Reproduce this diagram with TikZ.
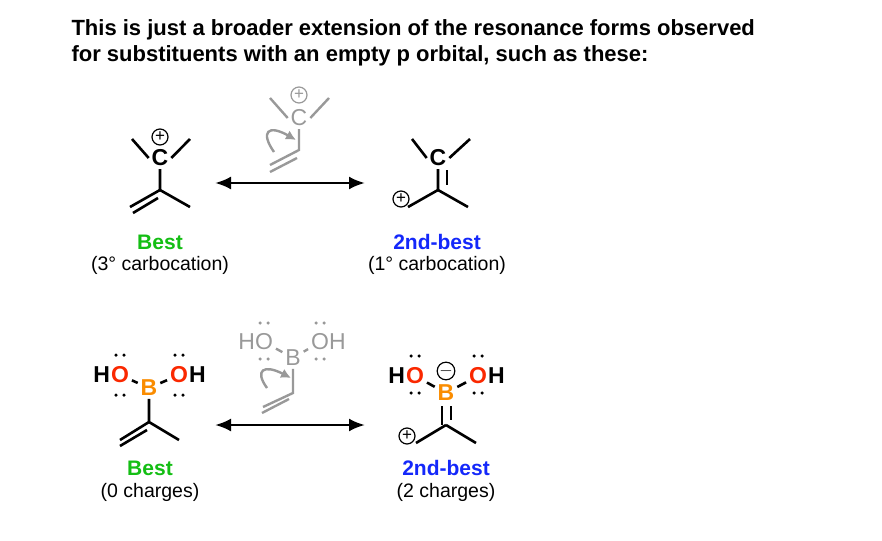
\documentclass[tikz,border=0pt]{standalone}
\usepackage{fontspec}
\setmainfont{Liberation Sans}
\usetikzlibrary{arrows.meta}
\begin{document}
\begin{tikzpicture}[x=1pt,y=-1pt,
 bd/.style={line width=2.6pt,black},
 gb/.style={line width=2.4pt,gray!80},
 atm/.style={font=\fontsize{23}{23}\selectfont\bfseries,inner sep=0pt,outer sep=3pt},
 gat/.style={font=\fontsize{23}{23}\selectfont,inner sep=0pt,outer sep=3pt,text=gray!80},
 lab/.style={font=\fontsize{21}{21}\selectfont\bfseries,inner sep=0pt},
 sub/.style={font=\fontsize{19.5}{19.5}\selectfont,inner sep=0pt},
 chg/.style={circle,draw,line width=1.2pt,inner sep=0pt,minimum size=16pt,font=\fontsize{17}{17}\selectfont},
 rarr/.style={line width=2.6pt,{Latex[length=16pt,width=13pt]}-{Latex[length=16pt,width=13pt]}},
 dot/.style={circle,fill,inner sep=0pt,minimum size=3.5pt}]
\useasboundingbox (0,0) rectangle (882,540);
\definecolor{bgreen}{RGB}{20,190,20}
\definecolor{bblue}{RGB}{20,40,250}
\definecolor{borange}{RGB}{250,140,0}
\definecolor{ored}{RGB}{250,40,0}
\node[anchor=west,font=\fontsize{22}{26}\selectfont\bfseries,align=left] (title) at (68,43) {This is just a broader extension of the resonance forms observed\\for substituents with an empty p orbital, such as these:};
% molecule 1
\node[atm] (c1) at (160,158) {C};
\node[chg] (p1) at (160,137) {+};
\coordinate (m1a) at (132,139); \coordinate (m1b) at (190,139);
\coordinate (j1) at (160,190); \coordinate (e1) at (190,207); \coordinate (d1) at (130,207);
\draw[bd] (m1a) -- (c1.west); \draw[bd] (c1.east) -- (m1b);
\draw[bd] (c1.south) -- (j1) -- (e1); \draw[bd] (j1) -- (d1);
\draw[bd] (158,198) -- (133,213);
\coordinate (a1l) at (215,183); \coordinate (a1r) at (365,183);
\draw[rarr] (a1l) -- (a1r);
% gray 1
\node[gat] (gc1) at (299,118) {C};
\node[chg,draw=gray!80,text=gray!80] (gp1) at (299,95) {+};
\coordinate (g1a) at (270,98); \coordinate (g1b) at (329,98);
\coordinate (gj1) at (299,150); \coordinate (gd1) at (270,165);
\draw[gb] (g1a) -- (gc1.west); \draw[gb] (gc1.east) -- (g1b);
\draw[gb] (gc1.south) -- (gj1) -- (gd1);
\draw[gb] (297,158) -- (270,172);
\coordinate (ga1s) at (274,152); \coordinate (ga1e) at (296,140);
\draw[gb,-{Latex[length=10pt,width=10pt]}] (ga1s) .. controls (260,132) and (268,124) .. (ga1e);
% right 1
\node[atm] (c2) at (438,158) {C};
\coordinate (m2a) at (412,139); \coordinate (m2b) at (470,139);
\coordinate (j2) at (438,190); \coordinate (e2) at (468,207); \coordinate (d2) at (408,207);
\draw[bd] (m2a) -- (c2.west); \draw[bd] (c2.east) -- (m2b);
\draw[bd] (c2.south) -- (j2) -- (e2); \draw[bd] (j2) -- (d2);
\draw[bd] (447,170) -- (447,185);
\node[chg] (p2) at (401,199) {+};
\node[lab,text=bgreen] (best1) at (160,242) {Best};
\node[sub] (s1) at (160,265) {(3° carbocation)};
\node[lab,text=bblue] (nd1) at (437,242) {2nd-best};
\node[sub] (s2) at (437,265) {(1° carbocation)};
% molecule 3
\node[atm,text=borange] (b1) at (149,388) {B};
\node[atm,text=ored] (o1) at (120,375) {O}; \node[atm,anchor=east,outer sep=0pt] (h1) at (110,375) {H};
\node[atm,text=ored] (o2) at (179,375) {O}; \node[atm,anchor=west,outer sep=0pt] (h2) at (189,375) {H};
\draw[bd] (o1) -- (b1); \draw[bd] (b1) -- (o2);
\foreach \x in {116,124,175,183}{\node[dot] at (\x,355) {}; \node[dot] at (\x,395) {};}
\coordinate (j3) at (149,422); \coordinate (e3) at (179,440); \coordinate (d3) at (120,440);
\draw[bd] (b1.south) -- (j3) -- (e3); \draw[bd] (j3) -- (d3);
\draw[bd] (147,430) -- (120,446);
\draw[rarr] (215,425) -- (365,425);
% gray 2
\node[gat] (gb2) at (293,358) {B};
\node[gat] (go1) at (264,342) {O}; \node[gat,anchor=east,outer sep=0pt] (gh1) at (255,342) {H};
\node[gat] (go2) at (320,342) {O}; \node[gat,anchor=west,outer sep=0pt] (gh2) at (329,342) {H};
\draw[gb] (go1) -- (gb2); \draw[gb] (gb2) -- (go2);
\foreach \x in {260,268,316,324}{\node[dot,fill=gray!80] at (\x,323) {}; \node[dot,fill=gray!80] at (\x,359) {};}
\coordinate (gj2) at (293,393); \coordinate (gd2) at (263,407);
\draw[gb] (gb2.south) -- (gj2) -- (gd2);
\draw[gb] (289,399) -- (262,413);
\draw[gb,-{Latex[length=10pt,width=10pt]}] (267,388) .. controls (254,370) and (264,364) .. (291,378);
% right 2
\node[atm,text=borange] (b2) at (446,393) {B};
\node[chg] (m2) at (446,371) {$-$};
\node[atm,text=ored] (o3) at (415,376) {O}; \node[atm,anchor=east,outer sep=0pt] (h3) at (405,376) {H};
\node[atm,text=ored] (o4) at (478,376) {O}; \node[atm,anchor=west,outer sep=0pt] (h4) at (488,376) {H};
\draw[bd] (o3) -- (b2); \draw[bd] (b2) -- (o4);
\foreach \x in {411,419,474,482}{\node[dot] at (\x,356) {}; \node[dot] at (\x,393) {};}
\coordinate (j4) at (446,425); \coordinate (e4) at (476,443); \coordinate (d4) at (416,443);
\draw[bd] (442,406) -- (442,425); \draw[bd] (451,406) -- (451,420);
\draw[bd] (j4) -- (e4); \draw[bd] (j4) -- (d4);
\node[chg] (p4) at (407,436) {+};
\node[lab,text=bgreen] (best2) at (150,468) {Best};
\node[sub] (s3) at (150,492) {(0 charges)};
\node[lab,text=bblue] (nd2) at (446,468) {2nd-best};
\node[sub] (s4) at (446,492) {(2 charges)};
\end{tikzpicture}
\end{document}
